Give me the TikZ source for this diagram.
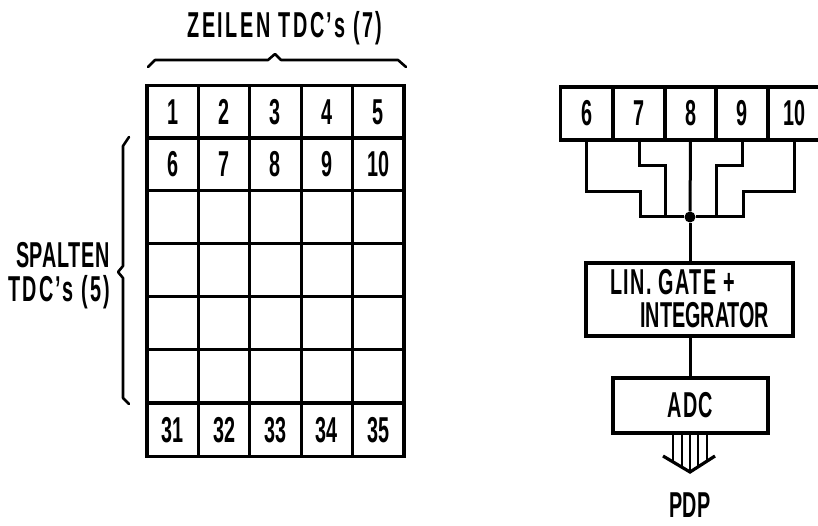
\documentclass[tikz,border=0pt]{standalone}
\usepackage{fontspec}
\setmainfont[FakeStretch=0.55]{Liberation Sans}
\tikzset{
  cell/.style={draw,line width=3.2pt,minimum width=51.4pt,minimum height=52.8pt,outer sep=0pt,inner sep=0pt},
  block/.style={draw,line width=3.2pt,outer sep=0pt,inner sep=0pt},
  wire/.style={line width=3pt},
  curly/.style={line width=2.6pt,line join=round,line cap=round},
  caption/.style={inner sep=0pt}
}
\begin{document}
\begin{tikzpicture}[x=1pt,y=-1pt,font=\fontsize{36}{36}\selectfont\bfseries]
      \useasboundingbox (0,0) rectangle (818,526);
      % raster
      \foreach \row/\ypos in {1/112,2/164,3/217,4/270,5/323,6/376,7/430}
        \foreach \col/\xpos in {1/172.7,2/224.1,3/275.5,4/326.9,5/378.3}
          \node[cell] (g\row\col) at (\xpos,\ypos) {};
      \foreach \row/\first in {1/1,2/6,7/31}
        \foreach \col in {1,...,5} {
          \pgfmathtruncatemacro{\num}{\first+\col-1}
          \node[caption] at (g\row\col) {\num};
        }
      % labels of the raster
      \node[caption] (zeilen) at (285,28) {\addfontfeature{LetterSpace=7}ZEILEN TDC's (7)};
      \node[caption,anchor=east] (spalten) at (110,255) {\addfontfeature{LetterSpace=2}SPALTEN};
      \node[caption,anchor=east] (tdcs) at (110,292) {\addfontfeature{LetterSpace=6}TDC's (5)};
      \draw[curly] (148,67) -- (155,60) -- (268,60) -- (275,54) -- (281,60) -- (398,60) -- (406,67);
      \draw[curly] (129,137) -- (123,146) -- (123,266) -- (118,272) -- (123,278) -- (123,398) -- (129,404);
      % read-out
      \foreach \num/\xpos in {6/586.5,7/639,8/690.5,9/742,10/794}
        \node[cell,minimum width=52pt,minimum height=53pt] (r\num) at (\xpos,113.5) {\num};
      \node[circle,fill,inner sep=0pt,minimum size=11pt] (dot) at (690,217) {};
      \node[block,minimum width=207pt,minimum height=73pt] (gate) at (689.5,299.5) {};
      \node[caption,anchor=west] (lin) at (610,282) {\addfontfeature{LetterSpace=4}LIN. GATE +};
      \node[caption,anchor=west] (integ) at (640,315) {INTEGRATOR};
      \node[block,minimum width=155pt,minimum height=55pt] (adc) at (690.5,405.5) {\addfontfeature{LetterSpace=3}ADC};
      \node[caption] (pdp) at (690,505) {PDP};
      \draw[wire] (r6.south) |- (640,192) |- (dot);
      \draw[wire] (r7.south) |- (665,166) |- (dot);
      \draw[wire] (r8.south) -- (dot);
      \draw[wire] (r9.south) |- (716,166) |- (dot);
      \draw[wire] (r10.south) |- (743,192) |- (dot);
      \draw[wire] (dot) -- (gate.north -| dot);
      \draw[wire] (gate.south -| dot) -- (adc.north -| dot);
      % bus to the computer
      \foreach \xpos/\yend in {673/462,682/467,690/472,698/467,707/462}
        \draw[line width=2.2pt] (\xpos,433) -- (\xpos,\yend);
      \draw[line width=3.2pt] (663,456) -- (690,472) -- (715,456);
\end{tikzpicture}
\end{document}
